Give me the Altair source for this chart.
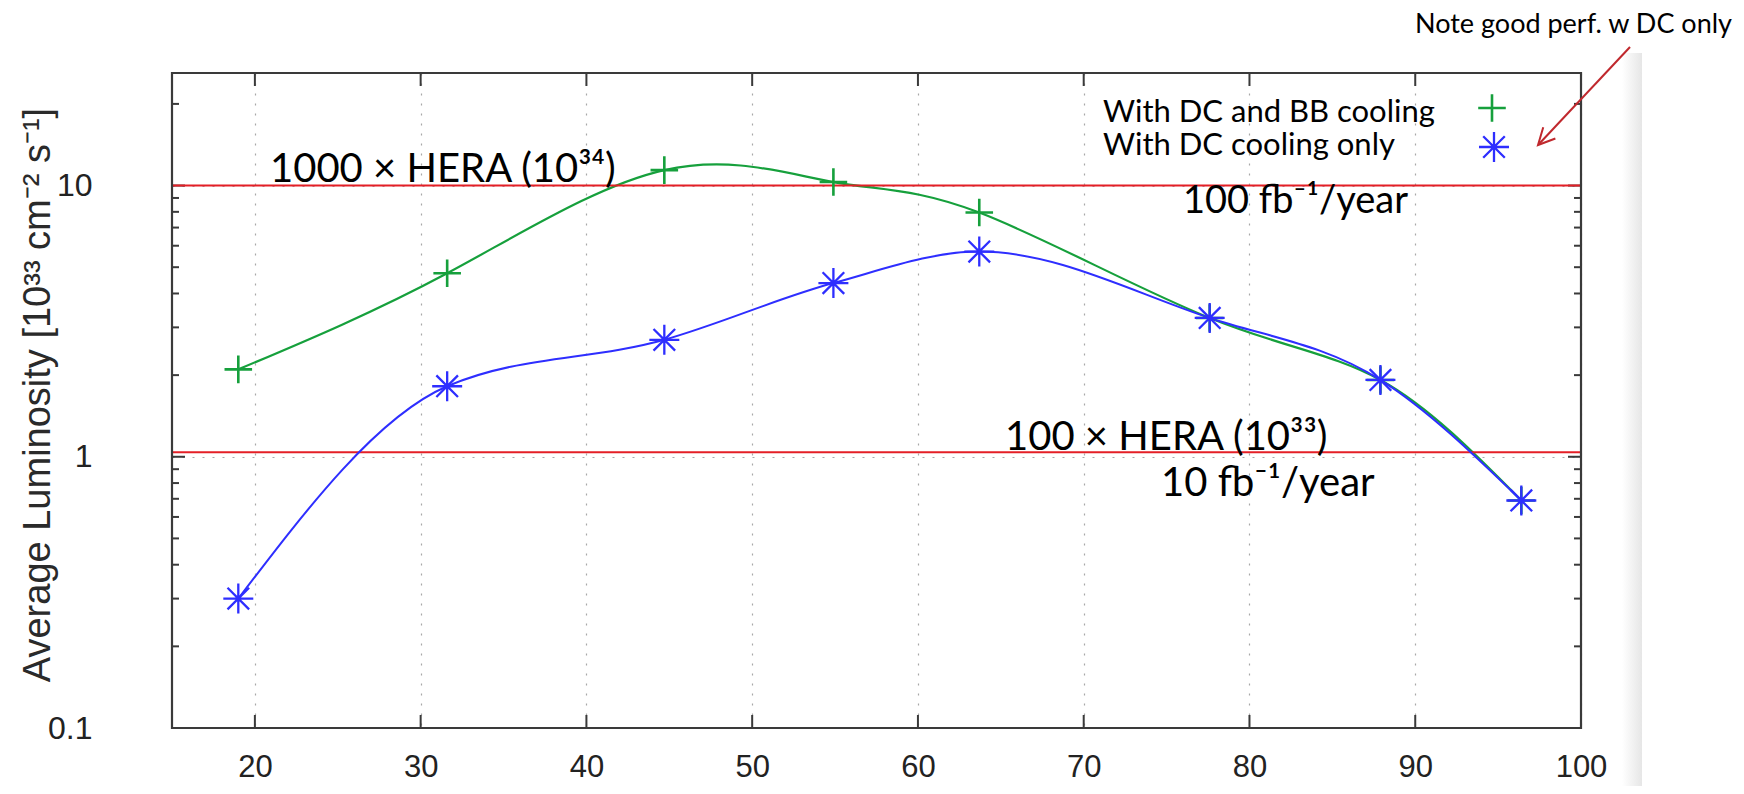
import altair as alt
import pandas as pd

# ---------------- data ----------------
energy = [19.0, 31.6, 44.7, 54.9, 63.7, 77.6, 87.9, 96.4]
lumi_dc_bb = [2.1, 4.75, 11.4, 10.3, 7.95, 3.25, 1.92, 0.69]
lumi_dc = [0.30, 1.82, 2.70, 4.37, 5.71, 3.25, 1.92, 0.69]
series_names = ["With DC and BB cooling", "With DC cooling only"]
x_ticks = [20, 30, 40, 50, 60, 70, 80, 90, 100]
y_major = [0.1, 1, 10]
y_minor = [0.2, 0.3, 0.4, 0.5, 0.6, 0.7, 0.8, 0.9, 2, 3, 4, 5, 6, 7, 8, 9, 20]
hera_levels = [10.0, 1.04]
annotation_texts = ["1000 × HERA (10³⁴)", "100 fb⁻¹/year", "100 × HERA (10³³)", "10 fb⁻¹/year"]
note_text = "Note good perf. w DC only"
y_title = "Average Luminosity [10³³ cm⁻² s⁻¹]"

# ---------------- styling ----------------
W, H = 1409, 655
GREEN = "#16a03c"
BLUE = "#2e2eff"
RED = "#e41f26"
DARKRED = "#c0282d"
FRAME = "#3a3a3a"
AXFONT = "Liberation Sans"
TXFONT = "Lato"
PLUS = "M-1,0L1,0M0,-1L0,1"
STAR = "M-1,0L1,0M0,-1L0,1M-0.72,-0.72L0.72,0.72M-0.72,0.72L0.72,-0.72"
VHEAD = "M-0.5,1L0,0L0.5,1"

xs = alt.Scale(domain=[15, 100], nice=False, zero=False)
ys = alt.Scale(type="log", domain=[0.1, 26], nice=False)

xaxis = alt.Axis(values=x_ticks, title=None, grid=True, gridDash=[2, 8], gridColor="#a8a8a8",
                 gridWidth=1.2, ticks=False, domain=False, labelFont=AXFONT, labelFontSize=31,
                 labelColor="#222222", labelPadding=24, format="d", labelFlush=False,
                 labelOverlap=False)
yaxis = alt.Axis(values=y_major, title=y_title, grid=True, gridDash=[2, 8], gridColor="#a8a8a8",
                 gridWidth=1.2, ticks=False, domain=False, labelFont=AXFONT, labelFontSize=32,
                 labelColor="#222222", labelPadding=80, format="~g", labelFlush=False,
                 titleFont=AXFONT, titleFontSize=38, titleFontWeight="normal", titleColor="#2a2a2a",
                 titleX=-134, titleY=H / 2 - 6, titleAngle=270, titleAlign="center",
                 titleBaseline="middle")

df_g = pd.DataFrame({"E": energy, "L": lumi_dc_bb})
df_b = pd.DataFrame({"E": energy, "L": lumi_dc})

green_line = alt.Chart(df_g).mark_line(interpolate="natural", color=GREEN, strokeWidth=2.2).encode(
    x=alt.X("E:Q", scale=xs, axis=xaxis), y=alt.Y("L:Q", scale=ys, axis=yaxis))
blue_line = alt.Chart(df_b).mark_line(interpolate="monotone", color=BLUE, strokeWidth=2.0).encode(
    x=alt.X("E:Q", scale=xs), y=alt.Y("L:Q", scale=ys))
green_pts = alt.Chart(df_g).mark_point(shape=PLUS, size=760, filled=False, color=GREEN,
                                       strokeWidth=2.6, opacity=1).encode(
    x=alt.X("E:Q", scale=xs), y=alt.Y("L:Q", scale=ys))
blue_pts = alt.Chart(df_b).mark_point(shape=STAR, size=900, filled=False, color=BLUE,
                                      strokeWidth=2.3, opacity=1).encode(
    x=alt.X("E:Q", scale=xs), y=alt.Y("L:Q", scale=ys))

# red reference levels
df_r = pd.DataFrame({"L": hera_levels})
red_rules = alt.Chart(df_r).mark_rule(color=RED, strokeWidth=2).encode(
    y=alt.Y("L:Q", scale=ys))

one = alt.Data(values=[{}])

# plot frame
frame = alt.Chart(one).mark_rect(fill="transparent", stroke=FRAME, strokeWidth=2.2).encode(
    x=alt.value(0), x2=alt.value(W), y=alt.value(0), y2=alt.value(H))

# inward ticks (gnuplot style) built from tick values
df_xt = pd.DataFrame({"E": x_ticks})
df_ym = pd.DataFrame({"L": y_major})
df_yn = pd.DataFrame({"L": y_minor})
ticks = [
    alt.Chart(df_xt).mark_rule(color=FRAME, strokeWidth=2).encode(
        x=alt.X("E:Q", scale=xs), y=alt.value(H), y2=alt.value(H - 13)),
    alt.Chart(df_xt).mark_rule(color=FRAME, strokeWidth=2).encode(
        x=alt.X("E:Q", scale=xs), y=alt.value(0), y2=alt.value(13)),
    alt.Chart(df_ym).mark_rule(color=FRAME, strokeWidth=2).encode(
        y=alt.Y("L:Q", scale=ys), x=alt.value(0), x2=alt.value(13)),
    alt.Chart(df_ym).mark_rule(color=FRAME, strokeWidth=2).encode(
        y=alt.Y("L:Q", scale=ys), x=alt.value(W), x2=alt.value(W - 13)),
    alt.Chart(df_yn).mark_rule(color=FRAME, strokeWidth=2).encode(
        y=alt.Y("L:Q", scale=ys), x=alt.value(0), x2=alt.value(7)),
    alt.Chart(df_yn).mark_rule(color=FRAME, strokeWidth=2).encode(
        y=alt.Y("L:Q", scale=ys), x=alt.value(W), x2=alt.value(W - 7)),
]


def label(text, x, y, size, align="left", color="#000000", font=TXFONT):
    return alt.Chart(one).mark_text(text=text, font=font, fontSize=size, align=align,
                                    baseline="alphabetic", color=color).encode(
        x=alt.value(x), y=alt.value(y))


texts = [
    label(annotation_texts[0], 98, 109, 40),
    label(annotation_texts[1], 1011, 140, 38),
    label(annotation_texts[2], 833, 377, 40),
    label(annotation_texts[3], 989, 423, 40),
    label(note_text, 1560, -40, 27, align="right"),
    label(series_names[0], 931, 49, 31),
    label(series_names[1], 931, 82, 31),
]

legend_marks = [
    alt.Chart(one).mark_point(shape=PLUS, size=760, filled=False, color=GREEN, strokeWidth=2.6,
                              opacity=1).encode(x=alt.value(1320), y=alt.value(35)),
    alt.Chart(one).mark_point(shape=STAR, size=900, filled=False, color=BLUE, strokeWidth=2.3,
                              opacity=1).encode(x=alt.value(1322), y=alt.value(74)),
]

arrow = [
    alt.Chart(one).mark_rule(color=DARKRED, strokeWidth=2).encode(
        x=alt.value(1458), y=alt.value(-26), x2=alt.value(1367), y2=alt.value(71)),
    alt.Chart(one).mark_point(shape=VHEAD, size=1100, filled=False, color=DARKRED, strokeWidth=2,
                              opacity=1, angle=223).encode(x=alt.value(1366), y=alt.value(72)),
]

# faint slide-edge shadow to the right of the plot
shadow = alt.Chart(one).mark_rect(
    color=alt.Gradient(gradient="linear", x1=0, x2=1, y1=0, y2=0,
                       stops=[alt.GradientStop(offset=0, color="#ffffff"),
                              alt.GradientStop(offset=1, color="#e6e6e6")])
).encode(x=alt.value(1450), x2=alt.value(1470), y=alt.value(-20), y2=alt.value(H + 80))

chart = alt.layer(
    shadow, green_line, *ticks, red_rules, blue_line, green_pts, blue_pts, frame,
    *texts, *legend_marks, *arrow
).properties(
    width=W, height=H,
    padding={"left": 164, "top": 65, "right": 155, "bottom": 58},
    autosize=alt.AutoSizeParams(type="none"),
).configure_view(strokeWidth=0).configure(background="white")

chart.save("out.html", embed_options={"renderer": "svg", "actions": False})
